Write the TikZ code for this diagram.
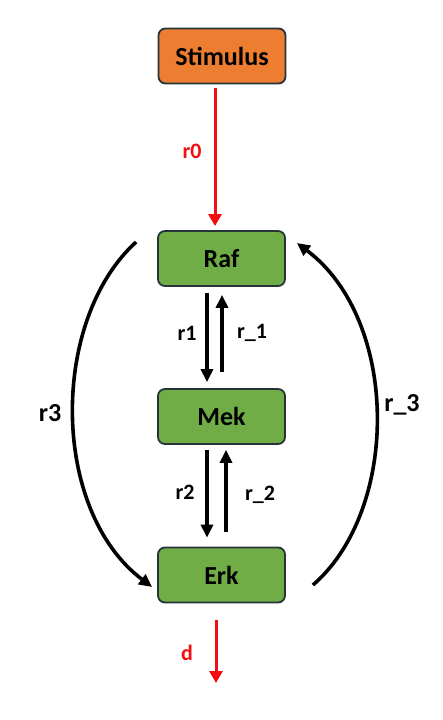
\documentclass[tikz,border=0pt]{standalone}
\usepackage{fontspec}
\setmainfont{Carlito}
\usepackage{tikz}
\usetikzlibrary{arrows.meta}
\definecolor{stimorange}{HTML}{ED7D31}
\definecolor{kinasegreen}{HTML}{70AD47}
\definecolor{boxedge}{RGB}{38,52,58}
\definecolor{flowred}{HTML}{F20F0F}
\tikzset{
	kinase/.style={draw=boxedge, line width=1.8pt, fill=kinasegreen, rounded corners=7pt, minimum width=127pt, minimum height=55pt, font=\fontsize{26}{30}\selectfont\bfseries},
	blackflow/.style={line width=3.6pt, -{Triangle[length=13pt,width=12pt]}},
	redflow/.style={line width=3pt, flowred, -{Triangle[length=12pt,width=13pt]}},
	ratelabel/.style={font=\fontsize{22}{26}\selectfont\bfseries},
}
\begin{document}
\begin{tikzpicture}[x=1pt,y=-1pt]
			{\useasboundingbox (0,0) rectangle (443,720);}
			{\node[kinase, fill=stimorange] (stim) at (222,56) {Stimulus};}
			{\node[kinase] (raf) at (221.5,258.5) {Raf};}
			{\node[kinase] (mek) at (221.5,416.5) {Mek};}
			{\node[kinase] (erk) at (221.5,575) {Erk};}
			{\coordinate (dend) at (216,683);}
			{\draw[redflow, shorten <=3.5pt, shorten >=4pt] ([xshift=-7pt]stim.south) -- ([xshift=-6.5pt]raf.north);}
			{\draw[blackflow, shorten <=6pt, shorten >=6pt] ([xshift=-14.5pt]raf.south) -- ([xshift=-14.5pt]mek.north);}
			{\draw[blackflow, shorten <=16pt, shorten >=8pt] ([xshift=0.5pt]mek.north) -- ([xshift=0.5pt]raf.south);}
			{\draw[blackflow, shorten <=5pt, shorten >=9pt] ([xshift=-14.5pt]mek.south) -- ([xshift=-14.5pt]erk.north);}
			{\draw[blackflow, shorten <=15pt, shorten >=5pt] ([xshift=4.5pt]erk.north) -- ([xshift=4.5pt]mek.south);}
			{\draw[blackflow] ([shift={(-21,-16.5)}]raf.west) .. controls +(-86,78) and +(-102,-77) .. ([shift={(-5,12)}]erk.west);}
			{\draw[blackflow] ([shift={(27,10)}]erk.east) .. controls +(87,-75) and +(103,77) .. ([shift={(11,-15.5)}]raf.east);}
			{\draw[redflow, shorten <=17pt] ([xshift=-5.5pt]erk.south) -- (dend);}
			%{\draw[help lines] (0,0) grid (443,720);}
			{\node[ratelabel, text=flowred] (lr0) at (192,151) {r0};}
			{\node[ratelabel] (lr1) at (187,333) {r1};}
			{\node[ratelabel] (lrm1) at (252,333) {r\_1};}
			{\node[ratelabel] (lr2) at (185,492) {r2};}
			{\node[ratelabel] (lrm2) at (260,495) {r\_2};}
			{\node[ratelabel, font=\fontsize{26}{30}\selectfont\bfseries] (lr3) at (50,413) {r3};}
			{\node[ratelabel, font=\fontsize{26}{30}\selectfont\bfseries] (lrm3) at (402,405) {r\_3};}
			{\node[ratelabel, text=flowred] (ld) at (187,653) {d};}
		\end{tikzpicture}
\end{document}
